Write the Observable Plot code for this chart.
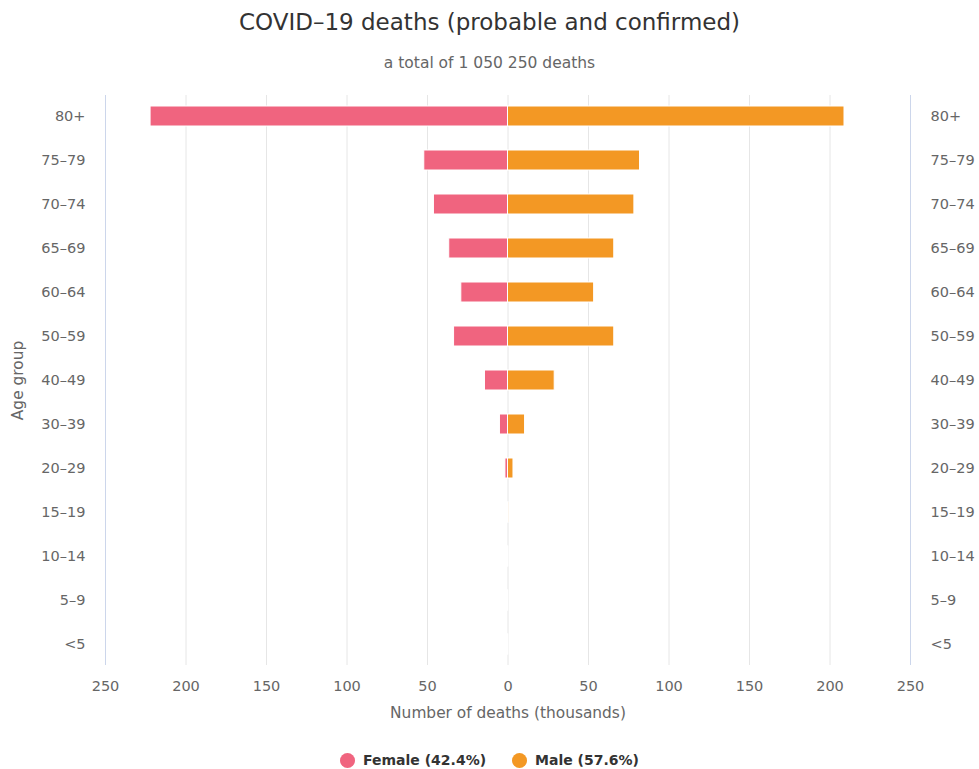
<!DOCTYPE html>
<html>
<head>
<meta charset="utf-8">
<script src="https://cdn.jsdelivr.net/npm/d3@7"></script>
<script src="https://cdn.jsdelivr.net/npm/@observablehq/plot@0.6"></script>
<style>
  body { margin: 0; background: #fff; font-family: "DejaVu Sans", sans-serif; }
  #wrap { width: 979px; }
  .title { height: 44px; line-height: 44px; text-align: center; font-size: 23px; color: #333; }
  .subtitle { height: 38px; line-height: 38px; text-align: center; font-size: 15.5px; color: #666; }
  .legend { height: 70px; display: flex; justify-content: center; align-items: center; gap: 26px; font-size: 14px; font-weight: bold; color: #333; }
  .legend span.item { display: flex; align-items: center; gap: 8px; }
  .legend span.dot { width: 15px; height: 15px; border-radius: 50%; display: inline-block; }
  svg { display: block; }
</style>
</head>
<body>
<div id="wrap">
  <div class="title">COVID–19 deaths (probable and confirmed)</div>
  <div class="subtitle">a total of 1 050 250 deaths</div>
  <div id="chart"></div>
  <div class="legend" id="legend"></div>
</div>
<script>
const ageGroups = ["80+", "75–79", "70–74", "65–69", "60–64", "50–59", "40–49", "30–39", "20–29", "15–19", "10–14", "5–9", "<5"];
const femaleDeaths = [222, 52, 46, 36.5, 29, 33.5, 14.3, 5, 1.6, 0.3, 0.15, 0.1, 0.15];
const maleDeaths = [209, 82, 78.5, 66, 53.5, 66, 29, 10.6, 3.4, 0.45, 0.25, 0.15, 0.2];
const xTicks = [-250, -200, -150, -100, -50, 0, 50, 100, 150, 200, 250];
const seriesNames = ["Female (42.4%)", "Male (57.6%)"];
const seriesColors = ["#f0647f", "#f39824"];

const female = ageGroups.map((g, i) => ({group: g, value: -femaleDeaths[i]}));
const male = ageGroups.map((g, i) => ({group: g, value: maleDeaths[i]}));

const chart = Plot.plot({
  width: 979,
  height: 643,
  marginTop: 13,
  marginBottom: 60,
  marginLeft: 105,
  marginRight: 69,
  style: {fontFamily: "DejaVu Sans, sans-serif", fontSize: "14px", color: "#666", background: "#fff"},
  x: {domain: [-250, 250]},
  y: {domain: ageGroups, paddingInner: 0.54, paddingOuter: 0.235},
  marks: [
    Plot.ruleX(xTicks.filter(d => Math.abs(d) < 250), {stroke: "#e6e6e6", strokeWidth: 1}),
    Plot.ruleX([-250, 250], {stroke: "#ccd6eb", strokeWidth: 1}),
    Plot.barX(female, {x1: 0, x2: "value", y: "group", fill: seriesColors[0], stroke: "#fff", strokeWidth: 1}),
    Plot.barX(male, {x1: 0, x2: "value", y: "group", fill: seriesColors[1], stroke: "#fff", strokeWidth: 1}),
    Plot.axisX({ticks: xTicks, tickFormat: d => Math.abs(d), tickSize: 0, tickPadding: 15, label: null, fontSize: 14.5, fill: "#666"}),
    Plot.axisY({anchor: "left", tickSize: 0, tickPadding: 20, label: null, fontSize: 14.5, fill: "#666"}),
    Plot.axisY({anchor: "right", tickSize: 0, tickPadding: 20, label: null, fontSize: 14.5, fill: "#666"}),
    Plot.text(["Number of deaths (thousands)"], {frameAnchor: "bottom", dy: 52, fontSize: 15.4, fill: "#666"}),
    Plot.text(["Age group"], {frameAnchor: "left", textAnchor: "middle", dx: -87, rotate: -90, fontSize: 15.4, fill: "#666"})
  ]
});
document.getElementById("chart").appendChild(chart);

const legend = document.getElementById("legend");
seriesNames.forEach((name, i) => {
  const item = document.createElement("span");
  item.className = "item";
  const dot = document.createElement("span");
  dot.className = "dot";
  dot.style.background = seriesColors[i];
  const label = document.createElement("span");
  label.textContent = name;
  item.appendChild(dot);
  item.appendChild(label);
  legend.appendChild(item);
});
</script>
</body>
</html>
